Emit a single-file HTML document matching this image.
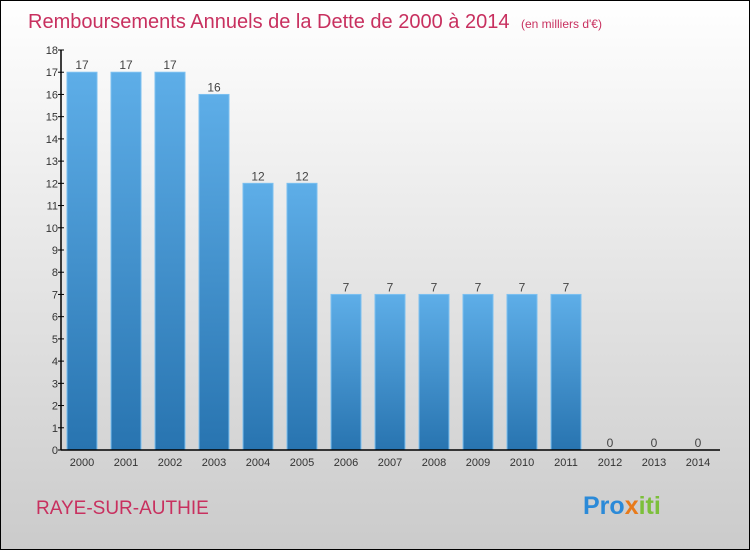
<!DOCTYPE html>
<html><head><meta charset="utf-8"><style>
html,body{margin:0;padding:0}
body{width:750px;height:550px;overflow:hidden;font-family:"Liberation Sans",sans-serif}
</style></head><body>
<svg width="750" height="550" xmlns="http://www.w3.org/2000/svg">
<defs>
<linearGradient id="bg" x1="0" y1="0" x2="0" y2="1"><stop offset="0" stop-color="#ffffff"/><stop offset="1" stop-color="#cbcbcb"/></linearGradient>
<linearGradient id="bar" x1="0" y1="0" x2="0" y2="1"><stop offset="0" stop-color="#5eaee8"/><stop offset="1" stop-color="#2874b0"/></linearGradient>
</defs>
<rect x="0.5" y="0.5" width="749" height="549" fill="url(#bg)" stroke="#000"/>
<text x="28" y="28" font-size="20" fill="#c8305f">Remboursements Annuels de la Dette de 2000 à 2014 <tspan font-size="12" dx="6">(en milliers d'€)</tspan></text>
<g id="plot"></g>
<text x="36" y="514" font-size="19" fill="#c8305f">RAYE-SUR-AUTHIE</text>
<text x="583" y="514" font-size="25" font-weight="bold"><tspan fill="#2b8ad8">Pro</tspan><tspan fill="#e87a1a">x</tspan><tspan fill="#7cbf3a">iti</tspan></text>
</svg>
<script>
const years=["2000","2001","2002","2003","2004","2005","2006","2007","2008","2009","2010","2011","2012","2013","2014"];
const values=[17,17,17,16,12,12,7,7,7,7,7,7,0,0,0];
const yTicks=[0,1,2,3,4,5,6,7,8,9,10,11,12,13,14,15,16,17,18];
const NS="http://www.w3.org/2000/svg";
const g=document.getElementById('plot');
const y0=450,yTop=50,yMax=18,x0=82,step=44,bw=30,axisX=61;
const yS=v=>y0-(v/yMax)*(y0-yTop);
const xS=i=>x0+i*step;
function mk(t,a,txt){const e=document.createElementNS(NS,t);for(const k in a)e.setAttribute(k,a[k]);if(txt!==undefined)e.textContent=txt;g.appendChild(e);return e;}
values.forEach((v,i)=>{
 if(v>0){const r=mk('rect',{x:xS(i)-bw/2,y:yS(v),width:bw,height:y0-yS(v),fill:'url(#bar)',stroke:'#7cc0f0','stroke-width':1});
 
 }
 const t=mk('text',{x:xS(i),y:yS(v)-3,'font-size':12,fill:'#444','text-anchor':'middle'},String(v));
 
 
 const xl=mk('text',{x:xS(i),y:466,'font-size':11,fill:'#333','text-anchor':'middle'},years[i]);
 
 
});
yTicks.forEach(v=>{
 const l=mk('line',{x1:axisX-3,x2:axisX+3,y1:yS(v),y2:yS(v),stroke:'#000'});
 
 
 const t=mk('text',{x:axisX-3,y:yS(v)+4,'font-size':11,fill:'#333','text-anchor':'end'},String(v));
 
 
});
const ya=mk('line',{x1:axisX,x2:axisX,y1:yTop,y2:y0,stroke:'#000','stroke-width':1.5});


const xa=mk('line',{x1:axisX,x2:720,y1:y0,y2:y0,stroke:'#000','stroke-width':1.5});


</script>
</body></html>
